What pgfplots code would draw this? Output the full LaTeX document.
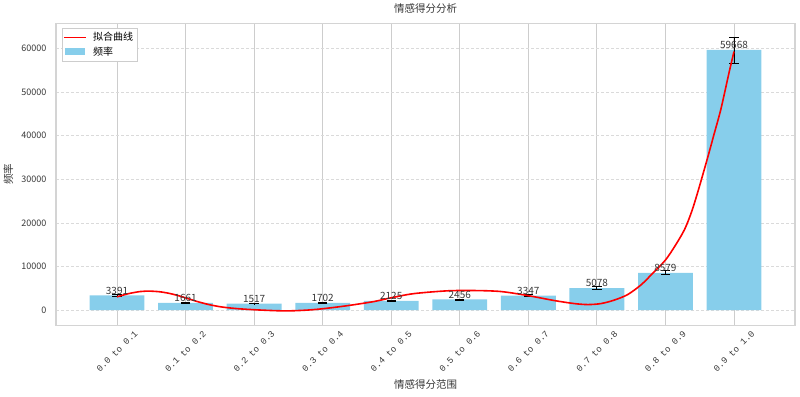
\documentclass[border=0pt]{standalone}
\usepackage{pgfplots}
\pgfplotsset{compat=1.18}
\usepackage{fontspec}
\setmainfont{Noto Sans CJK SC}
\newfontfamily\monofont{Liberation Mono}
\definecolor{skyblue}{RGB}{135,206,235}
\definecolor{txt}{RGB}{55,55,55}
\definecolor{gridv}{RGB}{205,205,205}
\definecolor{gridh}{RGB}{218,218,218}
\definecolor{framec}{RGB}{212,212,212}

\begin{document}
\begin{tikzpicture}
\begin{axis}[
  name=ax,
  scale only axis, width=739pt, height=302pt,
  xmin=-0.89, xmax=9.89, ymin=-3450, ymax=65800,
  xtick={0,1,2,3,4,5,6,7,8,9},
  xticklabels={0.0 to 0.1,0.1 to 0.2,0.2 to 0.3,0.3 to 0.4,0.4 to 0.5,0.5 to 0.6,0.6 to 0.7,0.7 to 0.8,0.8 to 0.9,0.9 to 1.0},
  ytick={0,10000,20000,30000,40000,50000,60000},
  scaled y ticks=false,
  /pgf/number format/1000 sep={},
  /pgf/number format/assume math mode=true,
  major tick length=0pt,
  xmajorgrids, ymajorgrids,
  x grid style={gridv, line width=0.8pt},
  y grid style={gridh, dash pattern=on 3pt off 2pt, line width=0.6pt},
  axis line style={framec, line width=1.2pt},
  tick label style={text=txt},
  xticklabel style={font=\monofont\fontsize{9}{9}\selectfont, rotate=45, anchor=center},
  xticklabel shift=26pt,
  yticklabel style={font=\fontsize{9}{9}\selectfont, anchor=east, xshift=-6pt},
  title={情感得分分析},
  title style={at={(axis description cs:0.5,1.03)}, anchor=center, font=\fontsize{10.5}{12}\selectfont, text=txt},
  xlabel={情感得分范围},
  xlabel style={at={(axis description cs:0.5,-0.1954)}, anchor=center, font=\fontsize{10.5}{12}\selectfont, text=txt},
  ylabel={频率},
  ylabel style={at={(axis description cs:-0.0643,0.5)}, anchor=center, font=\fontsize{10.5}{12}\selectfont, text=txt},
  legend style={at={(axis description cs:0.0081,0.9834)}, anchor=north west, draw=gridv, fill=white, font=\fontsize{10}{12}\selectfont, inner sep=2pt, row sep=0.5pt, cells={anchor=west}},
]
\addlegendimage{legend image code/.code={\path[draw=none, fill=none] (0pt,-3.5pt) rectangle (27pt,3.5pt); \path[draw=none, fill=red, sharp corners] (0pt,-0.8pt) rectangle (22pt,0.8pt);}}
\addlegendentry{拟合曲线}
\addlegendimage{legend image code/.code={\path[draw=none, fill=none] (0pt,-3.5pt) rectangle (27pt,3.5pt); \path[draw=none, fill=skyblue, sharp corners] (1pt,-3.5pt) rectangle (21pt,3.5pt);}}
\addlegendentry{频率}
\addplot[forget plot, ybar, bar width=0.8, fill=skyblue, draw=none,
  nodes near coords,
  nodes near coords style={font=\fontsize{10}{10}\selectfont, text=txt, anchor=south, inner sep=0pt, yshift=1pt},
  error bars/.cd, y dir=both, y explicit,
  error bar style={black, line width=0.9pt},
  error mark options={black, rotate=90, mark size=4.7pt, line width=0.9pt}]
table[x=x, y=y, y error=e] {
x y e
0 3391 169.55
1 1661 83.05
2 1517 75.85
3 1702 85.1
4 2125 106.25
5 2456 122.8
6 3347 167.35
7 5078 253.9
8 8579 428.95
9 59668 2983.4
};
\addplot[forget plot, red, line width=1.6pt, smooth]
coordinates {
(0,3060) (0.17,3800) (0.34,4280) (0.48,4370) (0.63,4210) (0.77,3830) (0.92,3220)
(1.17,1990) (1.36,1220) (1.55,690) (1.80,300) (2.14,0) (2.48,-160) (2.82,70)
(3.11,530) (3.41,1150) (3.75,1990) (4.0,2850) (4.33,3800) (4.82,4440) (5.21,4510)
(5.60,4280) (5.99,3360) (6.38,2210) (6.67,1520) (6.87,1290) (7.06,1520) (7.25,2300)
(7.45,3590) (7.65,5890) (7.81,8400) (8.0,11500) (8.15,15000) (8.28,18550) (8.38,22500) (8.47,27000)
(8.61,34670) (8.71,40400) (8.81,46180) (8.93,54630) (9.0,59300)
};
\end{axis}
\path ([xshift=-56pt,yshift=-71pt]ax.south west) rectangle ([xshift=5pt,yshift=21pt]ax.north east);
\end{tikzpicture}
\end{document}
